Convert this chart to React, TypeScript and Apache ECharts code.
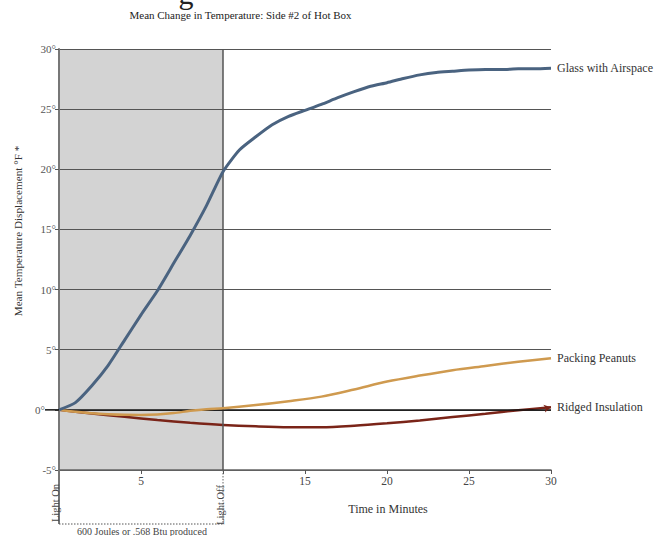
import React, { useEffect, useRef } from "react";
import * as echarts from "echarts";

const TITLE = "Mean Change in Temperature: Side #2 of Hot Box";
const Y_NAME = "Mean Temperature Displacement °F *";
const X_NAME = "Time in Minutes";
const FOOT_NOTE = "600 Joules or .568 Btu produced";
const LIGHT_ON = "Light On";
const LIGHT_OFF = "Light Off";

const xHiddenLabels = [0, 10];
const xRange = [0, 30];
const yRange = [-5, 30];
const tickStep = 5;
const lightPeriod = [0, 10];

const glassName = "Glass with Airspace";
const glassMinutes = [0, 1, 2, 3, 4, 5, 6, 7, 8, 9, 10, 11, 12, 13, 14, 15, 16, 17, 18, 19, 20, 21, 22, 23, 24, 25, 26, 27, 28, 29, 30];
const glassValues = [0, 0.6, 2.0, 3.7, 5.8, 7.9, 9.9, 12.2, 14.5, 17.0, 19.8, 21.6, 22.7, 23.7, 24.4, 24.9, 25.4, 25.95, 26.45, 26.9, 27.2, 27.55, 27.85, 28.05, 28.15, 28.25, 28.3, 28.3, 28.35, 28.35, 28.4];

const peanutName = "Packing Peanuts";
const peanutMinutes = [0, 1, 2, 3, 4, 5, 6, 7, 8, 9, 10, 12, 14, 16, 18, 20, 22, 24, 26, 28, 30];
const peanutValues = [0, -0.15, -0.28, -0.36, -0.41, -0.42, -0.38, -0.27, -0.08, 0.06, 0.14, 0.4, 0.72, 1.1, 1.7, 2.35, 2.85, 3.3, 3.65, 4.0, 4.3];

const ridgedName = "Ridged Insulation";
const ridgedMinutes = [0, 2, 4, 6, 8, 10, 12, 14, 16, 18, 20, 22, 24, 26, 28, 30];
const ridgedValues = [0, -0.3, -0.58, -0.85, -1.07, -1.25, -1.37, -1.44, -1.44, -1.32, -1.12, -0.88, -0.6, -0.33, -0.03, 0.22];

const FONT = "Liberation Serif";

const pairs = (xs: number[], ys: number[]) => xs.map((x, i) => [x, ys[i]]);

export default function App() {
  const ref = useRef<HTMLDivElement>(null);

  useEffect(() => {
    if (!ref.current) return;
    const chart = echarts.init(ref.current, undefined, { renderer: "svg" });

    const endLabel = {
      show: true,
      formatter: "{a}",
      color: "#333",
      fontSize: 12,
      fontFamily: FONT,
      distance: 6,
    };

    const option: any = {
      animation: false,
      backgroundColor: "#ffffff",
      textStyle: { fontFamily: FONT },
      grid: { left: 59, right: 111, top: 49, bottom: 66, containLabel: false },
      xAxis: {
        type: "value",
        min: xRange[0],
        max: xRange[1],
        interval: tickStep,
        z: 3,
        axisLine: { show: true, onZero: false, lineStyle: { color: "#666", width: 1.5 } },
        axisTick: { show: true, length: 4, lineStyle: { color: "#555", width: 1 } },
        axisLabel: {
          formatter: (v: number) => (xHiddenLabels.includes(v) ? "" : String(v)),
          color: "#444",
          fontSize: 11.5,
          fontFamily: FONT,
          margin: 5,
        },
        splitLine: { show: false },
      },
      yAxis: {
        type: "value",
        min: yRange[0],
        max: yRange[1],
        interval: tickStep,
        z: 2,
        axisLine: { show: true, onZero: false, lineStyle: { color: "#777", width: 2 } },
        axisTick: { show: true, length: 4, lineStyle: { color: "#555", width: 1 } },
        axisLabel: {
          formatter: (v: number) => (v === 0 ? `{zero|${v}°}` : `${v}°`),
          color: "#555",
          fontSize: 11,
          fontFamily: FONT,
          margin: 3,
          rich: {
            zero: { color: "#555", fontSize: 11, fontFamily: FONT, padding: [0, 11, 0, 0] },
          },
        },
        splitLine: { show: true, lineStyle: { color: "#555", width: 1.2 } },
      },
      series: [
        {
          name: "shade",
          type: "line",
          data: [],
          z: 1,
          silent: true,
          markArea: {
            silent: true,
            itemStyle: { color: "#d3d3d3" },
            data: [[{ xAxis: lightPeriod[0], yAxis: yRange[0] }, { xAxis: lightPeriod[1], yAxis: yRange[1] }]],
          },
        },
        {
          name: "refs",
          type: "line",
          data: [],
          z: 2.5,
          silent: true,
          markLine: {
            silent: true,
            symbol: "none",
            label: { show: false },
            data: [
              { xAxis: lightPeriod[1], lineStyle: { color: "#555", width: 1.5, type: "solid" } },
              { yAxis: 0, lineStyle: { color: "#111", width: 1.5, type: "solid" } },
            ],
          },
        },
        {
          name: ridgedName,
          type: "line",
          data: pairs(ridgedMinutes, ridgedValues),
          smooth: 0.3,
          showSymbol: false,
          z: 4,
          lineStyle: { color: "#7a2418", width: 2.5 },
          itemStyle: { color: "#7a2418" },
          endLabel,
          markPoint: {
            silent: true,
            symbol: "arrow",
            symbolSize: [6, 7],
            symbolRotate: -78,
            itemStyle: { color: "#7a2418" },
            label: { show: false },
            data: [{ coord: [ridgedMinutes[ridgedMinutes.length - 1], ridgedValues[ridgedValues.length - 1]] }],
          },
        },
        {
          name: peanutName,
          type: "line",
          data: pairs(peanutMinutes, peanutValues),
          smooth: 0.3,
          showSymbol: false,
          z: 5,
          lineStyle: { color: "#cf9a4f", width: 2.5 },
          itemStyle: { color: "#cf9a4f" },
          endLabel,
        },
        {
          name: glassName,
          type: "line",
          data: pairs(glassMinutes, glassValues),
          smooth: 0.2,
          showSymbol: false,
          z: 6,
          lineStyle: { color: "#4a6380", width: 3 },
          itemStyle: { color: "#4a6380" },
          endLabel,
        },
      ],
    };

    chart.setOption(option);

    const p = (x: number, y: number) => chart.convertToPixel({ gridIndex: 0 }, [x, y]) as number[];
    const [xOn, yBottom] = p(lightPeriod[0], yRange[0]);
    const [xOff] = p(lightPeriod[1], yRange[0]);
    const [, yZero] = p(0, 0);
    const yFoot = yBottom + 54;

    chart.setOption({
      graphic: [
        {
          type: "text",
          x: 186,
          y: 8,
          style: { text: "g", font: `30px ${FONT}`, fill: "#222", align: "center", verticalAlign: "bottom" },
          silent: true,
        },
        {
          type: "text",
          x: 240.5,
          y: 15,
          style: { text: TITLE, font: `11px ${FONT}`, fill: "#222", align: "center", verticalAlign: "middle" },
          silent: true,
        },
        {
          type: "text",
          x: 18,
          y: 231,
          rotation: Math.PI / 2,
          style: { text: Y_NAME, font: `11.2px ${FONT}`, fill: "#333", align: "center", verticalAlign: "middle" },
          silent: true,
        },
        {
          type: "text",
          x: 388,
          y: 509,
          style: { text: X_NAME, font: `12px ${FONT}`, fill: "#333", align: "center", verticalAlign: "middle" },
          silent: true,
        },
        {
          type: "line",
          z: 10,
          shape: { x1: xOn - 14, y1: yZero, x2: xOn, y2: yZero },
          style: { stroke: "#111", lineWidth: 1.5 },
          silent: true,
        },
        {
          type: "line",
          z: 10,
          shape: { x1: xOn, y1: yBottom, x2: xOn, y2: yFoot },
          style: { stroke: "#777", lineWidth: 2 },
          silent: true,
        },
        {
          type: "line",
          z: 10,
          shape: { x1: xOn, y1: yFoot, x2: xOff, y2: yFoot },
          style: { stroke: "#555", lineWidth: 1, lineDash: [1.5, 1.5] },
          silent: true,
        },
        {
          type: "line",
          z: 10,
          shape: { x1: xOff, y1: yBottom, x2: xOff, y2: yFoot },
          style: { stroke: "#666", lineWidth: 1, lineDash: [1.5, 1.5] },
          silent: true,
        },
        {
          type: "text",
          z: 11,
          x: xOn - 4,
          y: yBottom + 33,
          rotation: Math.PI / 2,
          style: { text: LIGHT_ON, font: `10.5px ${FONT}`, fill: "#444", align: "center", verticalAlign: "middle" },
          silent: true,
        },
        {
          type: "text",
          z: 11,
          x: xOff - 3,
          y: yBottom + 35,
          rotation: Math.PI / 2,
          style: { text: LIGHT_OFF, font: `10.5px ${FONT}`, fill: "#444", align: "center", verticalAlign: "middle" },
          silent: true,
        },
        {
          type: "text",
          x: (xOn + xOff) / 2 + 1,
          y: yFoot + 7,
          style: { text: FOOT_NOTE, font: `10px ${FONT}`, fill: "#444", align: "center", verticalAlign: "middle" },
          silent: true,
        },
      ],
    });

    return () => chart.dispose();
  }, []);

  return (
    <div
      ref={ref}
      style={{ position: "fixed", left: 0, top: 0, width: 662, height: 536, background: "#fff" }}
    />
  );
}
